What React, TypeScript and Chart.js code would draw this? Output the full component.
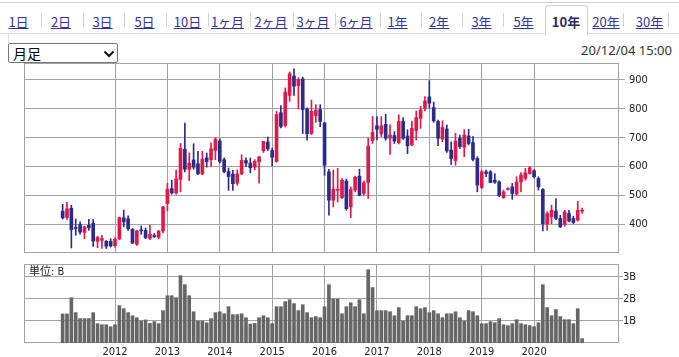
import React, { useEffect, useRef } from "react";
import { Chart, registerables } from "chart.js";
Chart.register(...registerables);

// ---- data ----
const startYear = 2011;
const opens = [
  446, 424, 456, 389, 400, 373, 397, 404, 342, 345, 342, 342,
  327, 350, 423, 420, 384, 332, 381, 380, 352, 362, 356, 378,
  472, 524, 509, 556, 660, 591, 623, 610, 575, 630, 624, 656,
  689, 624, 583, 574, 543, 575, 621, 612, 598, 617, 655, 685,
  656, 618, 786, 742, 846, 913, 880, 903, 799, 714, 776, 797,
  751, 582, 484, 518, 492, 550, 461, 519, 567, 507, 545, 690,
  741, 713, 746, 698, 707, 683, 756, 706, 675, 724, 767, 802,
  841, 804, 756, 695, 730, 657, 621, 698, 667, 706, 683, 628,
  528, 582, 582, 553, 547, 493, 521, 530, 505, 547, 559, 576,
  586, 559, 521, 402, 426, 447, 421, 400, 438, 421, 415, 446,
];
const highs = [
  470, 477, 467, 419, 409, 394, 418, 417, 360, 363, 345, 351,
  354, 426, 450, 430, 386, 380, 395, 388, 397, 369, 380, 463,
  542, 553, 588, 680, 750, 647, 679, 653, 653, 647, 682, 699,
  696, 630, 595, 587, 589, 641, 630, 630, 624, 635, 687, 702,
  664, 791, 811, 872, 927, 938, 907, 909, 803, 830, 814, 814,
  752, 591, 588, 594, 559, 557, 530, 567, 591, 550, 698, 773,
  773, 773, 781, 744, 721, 779, 769, 727, 756, 792, 808, 842,
  897, 823, 761, 758, 744, 686, 715, 709, 728, 729, 704, 634,
  588, 588, 586, 576, 551, 519, 528, 542, 565, 579, 594, 600,
  590, 565, 524, 444, 467, 490, 432, 449, 449, 429, 480, 457,
];
const lows = [
  419, 418, 319, 363, 367, 351, 380, 325, 320, 317, 317, 322,
  322, 348, 392, 380, 334, 328, 366, 351, 348, 355, 351, 371,
  447, 505, 505, 513, 582, 552, 591, 572, 572, 598, 601, 624,
  612, 578, 518, 518, 536, 572, 601, 578, 589, 543, 649, 656,
  603, 615, 734, 737, 826, 846, 799, 714, 691, 711, 753, 738,
  570, 432, 461, 478, 490, 449, 423, 513, 499, 501, 490, 680,
  692, 704, 691, 642, 680, 678, 694, 645, 672, 692, 732, 792,
  802, 753, 672, 686, 649, 608, 605, 663, 634, 675, 620, 513,
  524, 565, 544, 542, 496, 490, 519, 487, 501, 513, 553, 574,
  561, 519, 378, 380, 403, 417, 389, 394, 409, 403, 412, 438,
];
const closes = [
  423, 454, 382, 386, 374, 392, 389, 343, 355, 351, 325, 326,
  349, 424, 409, 385, 336, 378, 378, 355, 366, 358, 377, 461,
  522, 509, 558, 663, 591, 612, 598, 575, 626, 617, 661, 695,
  618, 583, 566, 541, 575, 621, 612, 596, 618, 634, 687, 661,
  632, 780, 739, 857, 921, 878, 901, 797, 714, 791, 795, 756,
  605, 484, 522, 520, 553, 455, 521, 563, 501, 544, 671, 718,
  729, 741, 698, 709, 688, 756, 698, 672, 732, 769, 796, 827,
  819, 758, 698, 735, 654, 628, 688, 669, 709, 680, 625, 536,
  582, 576, 545, 546, 501, 513, 524, 507, 547, 571, 579, 596,
  565, 530, 403, 438, 449, 421, 392, 444, 412, 407, 449, 449,
];
// monthly volume, in billions of shares (B)
const volumes = [
  1.32, 1.32, 2.06, 1.38, 1.11, 1.11, 1.11, 1.38, 0.88, 0.83, 0.83, 0.74,
  0.83, 1.70, 1.56, 1.38, 1.24, 1.15, 1.0, 1.05, 0.89, 0.97, 0.88, 1.47,
  2.15, 2.15, 2.06, 3.06, 2.65, 2.15, 1.42, 1.0, 1.0, 0.92, 1.11, 1.38,
  1.42, 1.33, 1.65, 1.29, 1.29, 1.33, 1.15, 0.86, 0.89, 1.15, 1.24, 1.15,
  0.88, 1.65, 1.65, 1.88, 1.97, 1.79, 1.47, 1.74, 1.38, 1.15, 1.2, 1.15,
  1.65, 2.65, 2.0, 2.0, 1.33, 1.65, 1.83, 1.65, 1.97, 1.33, 3.33, 2.52,
  1.47, 1.47, 1.47, 1.42, 1.24, 1.61, 1.0, 1.24, 1.24, 1.65, 1.56, 1.61,
  1.38, 1.47, 1.33, 1.15, 1.33, 1.33, 1.42, 1.15, 1.0, 1.47, 1.42, 1.24,
  0.88, 0.88, 0.97, 0.92, 1.11, 0.83, 0.79, 0.88, 1.06, 0.88, 0.83, 0.79,
  0.74, 0.92, 2.65, 1.61, 1.24, 1.52, 1.2, 1.06, 1.06, 0.88, 1.56, 0.2,
];
const yearTicks = [2012, 2013, 2014, 2015, 2016, 2017, 2018, 2019, 2020];
const priceTicks = [400, 500, 600, 700, 800, 900];
const volumeTicks = [1, 2, 3];
const tabLabels = ["1日", "2日", "3日", "5日", "10日", "1ヶ月", "2ヶ月", "3ヶ月", "6ヶ月", "1年", "2年", "3年", "5年", "10年", "20年", "30年"];
const activeTab = "10年";
const periodLabel = "月足";
const timestamp = "20/12/04 15:00";
const unitLabel = "単位: B";

// ---- layout / style constants ----
const W = 679;
const RED = "#e3184a";
const BLUE = "#2b2b8c";
const GRID = "#a3a3a3";
const VOL = "#666666";
const AXIS_FONT = { family: "'DejaVu Sans Condensed', 'DejaVu Sans', sans-serif", size: 11 };
const X_MIN = -8.85;
const X_MAX = 127.45;
const TAB_CENTERS = [18.5, 61, 102.5, 144.5, 187.5, 227.5, 271, 313, 356, 397.5, 439, 481.5, 523.5, 566, 606, 649.5];
const TAB_SEPS = [41, 83, 124, 166, 208, 250, 293, 335, 380, 421, 462, 503, 623, 668];

const framePlugin = {
  id: "frame",
  beforeDatasetsDraw(chart: any) {
    const { ctx, chartArea: a } = chart;
    ctx.save();
    ctx.strokeStyle = GRID;
    ctx.lineWidth = 1;
    const l = Math.round(a.left) + 0.5;
    const t = Math.round(a.top) + 0.5;
    const r = Math.round(a.right) - 0.5;
    const b = Math.round(a.bottom) - 0.5;
    ctx.strokeRect(l, t, r - l, b - t);
    ctx.restore();
  },
};

const unitPlugin = {
  id: "unit",
  afterDraw(chart: any) {
    const { ctx, chartArea: a } = chart;
    ctx.save();
    ctx.fillStyle = "#222";
    ctx.font = "11px 'DejaVu Sans Condensed', 'Noto Sans CJK JP', sans-serif";
    ctx.textBaseline = "middle";
    ctx.textAlign = "left";
    ctx.fillText(unitLabel, a.left + 5, a.top + 8.5);
    ctx.restore();
  },
};

const monthIndex = opens.map((_, i) => i);
const candleColors = monthIndex.map((i) => (closes[i] >= opens[i] ? RED : BLUE));
const janPositions = yearTicks.map((y) => (y - startYear) * 12);

function xScale(showLabels: boolean, labelHeight: number) {
  return {
    type: "linear",
    min: X_MIN,
    max: X_MAX,
    offset: false,
    afterBuildTicks: (s: any) => {
      s.ticks = janPositions.map((v) => ({ value: v }));
    },
    afterFit: (s: any) => {
      s.height = labelHeight;
      s.paddingLeft = 0;
      s.paddingRight = 0;
      s.paddingTop = 0;
      s.paddingBottom = 0;
    },
    ticks: {
      display: showLabels,
      autoSkip: false,
      maxRotation: 0,
      padding: 3,
      color: "#222",
      font: AXIS_FONT,
      callback: (v: number) => String(startYear + Math.round(v / 12)),
    },
    grid: { color: GRID, drawTicks: false, offset: false },
    border: { display: false },
  };
}

function yScale(min: number, max: number, ticks: number[], tickLength: number, padding: number, fmt: (v: number) => string) {
  return {
    type: "linear",
    position: "right",
    min,
    max,
    beginAtZero: false,
    afterBuildTicks: (s: any) => {
      s.ticks = ticks.map((v) => ({ value: v }));
    },
    afterFit: (s: any) => {
      s.width = W - 619;
      s.paddingTop = 0;
      s.paddingBottom = 0;
      s.paddingLeft = 0;
      s.paddingRight = 0;
    },
    ticks: { color: "#222", font: AXIS_FONT, padding, callback: fmt },
    grid: { color: GRID, tickLength },
    border: { display: false },
  };
}

function PriceChart() {
  const ref = useRef<HTMLCanvasElement>(null);
  useEffect(() => {
    const chart = new Chart(ref.current!, {
      type: "bar",
      data: {
        datasets: [
          {
            data: monthIndex.map((i) => ({ x: i, y: [lows[i], highs[i]] })),
            backgroundColor: candleColors,
            barThickness: 1,
            grouped: false,
            order: 2,
          } as any,
          {
            data: monthIndex.map((i) => ({ x: i, y: [opens[i], closes[i]] })),
            backgroundColor: candleColors,
            barThickness: 3,
            minBarLength: 1,
            grouped: false,
            order: 1,
          } as any,
        ],
      },
      options: {
        animation: false,
        responsive: false,
        devicePixelRatio: 1,
        layout: { padding: { left: 24, top: 7, right: 0, bottom: 5 } },
        plugins: { legend: { display: false }, tooltip: { enabled: false } },
        scales: {
          x: xScale(false, 0) as any,
          y: yScale(301.6, 957.9, priceTicks, 6, 4, (v) => String(v)) as any,
        },
      },
      plugins: [framePlugin],
    });
    return () => chart.destroy();
  }, []);
  return <canvas ref={ref} width={W} height={202} style={{ position: "absolute", left: 0, top: 56 }} />;
}

function VolumeChart() {
  const ref = useRef<HTMLCanvasElement>(null);
  useEffect(() => {
    const chart = new Chart(ref.current!, {
      type: "bar",
      data: {
        datasets: [
          {
            data: monthIndex.map((i) => ({ x: i, y: volumes[i] })),
            backgroundColor: VOL,
            barThickness: 3,
            grouped: false,
          } as any,
        ],
      },
      options: {
        animation: false,
        responsive: false,
        devicePixelRatio: 1,
        layout: { padding: { left: 24, top: 6, right: 0, bottom: 0 } },
        plugins: { legend: { display: false }, tooltip: { enabled: false } },
        scales: {
          x: xScale(true, 14) as any,
          y: yScale(0, 3.59, volumeTicks, 4, 0, (v) => `${v}B`) as any,
        },
      },
      plugins: [framePlugin, unitPlugin],
    });
    return () => chart.destroy();
  }, []);
  return <canvas ref={ref} width={W} height={99} style={{ position: "absolute", left: 0, top: 258 }} />;
}

export default function App() {
  const tabFont = "'Noto Sans CJK JP', 'Noto Sans', sans-serif";
  return (
    <div style={{ position: "fixed", left: 0, top: 0, width: W, height: 357, background: "#fff", overflow: "hidden" }}>
      {/* tab bar */}
      <div style={{ position: "absolute", left: 0, top: 2, width: W, height: 1, background: "#cfcfcf" }} />
      <div style={{ position: "absolute", left: 0, top: 33, width: W, height: 1, background: "#dcdcdc" }} />
      <div
        style={{
          position: "absolute",
          left: 545,
          top: 5,
          width: 41,
          height: 29,
          border: "1px solid #d0d0d0",
          borderBottom: "none",
          borderRadius: "3px 3px 0 0",
          background: "#fff",
        }}
      />
      {TAB_SEPS.map((x, i) => (
        <div key={"s" + i} style={{ position: "absolute", left: x, top: 13, width: 1, height: 14, background: "#d4d4d4" }} />
      ))}
      {tabLabels.map((t, i) => {
        const active = t === activeTab;
        return (
          <span
            key={t}
            style={{
              position: "absolute",
              left: TAB_CENTERS[i] - 30,
              width: 60,
              top: 12,
              lineHeight: "19px",
              textAlign: "center",
              fontFamily: tabFont,
              fontSize: 13,
              fontWeight: active ? 700 : 400,
              color: active ? "#2a2a66" : "#3434a0",
              textDecoration: active ? "none" : "underline",
            }}
          >
            {t}
          </span>
        );
      })}
      <div style={{ position: "absolute", left: 8, top: 33, width: 1, height: 10, background: "#dcdcdc" }} />
      {/* period selector (drawn like a closed select box) */}
      <div
        style={{
          position: "absolute",
          left: 8,
          top: 43,
          width: 108,
          height: 18,
          border: "1px solid #767676",
          borderRadius: 2,
          background: "#fff",
        }}
      >
        <span
          style={{
            position: "absolute",
            left: 4,
            top: 0,
            lineHeight: "18px",
            fontFamily: tabFont,
            fontSize: 14,
            color: "#000",
          }}
        >
          {periodLabel}
        </span>
        <svg width="12" height="8" style={{ position: "absolute", left: 94, top: 6 }}>
          <polyline points="1.5,1.5 6,6 10.5,1.5" fill="none" stroke="#111" strokeWidth="2" />
        </svg>
      </div>
      <div
        style={{
          position: "absolute",
          right: 7,
          top: 41,
          fontFamily: "'Noto Sans', sans-serif",
          fontSize: 13,
          lineHeight: "18px",
          color: "#333",
        }}
      >
        {timestamp}
      </div>
      <PriceChart />
      <VolumeChart />
    </div>
  );
}
